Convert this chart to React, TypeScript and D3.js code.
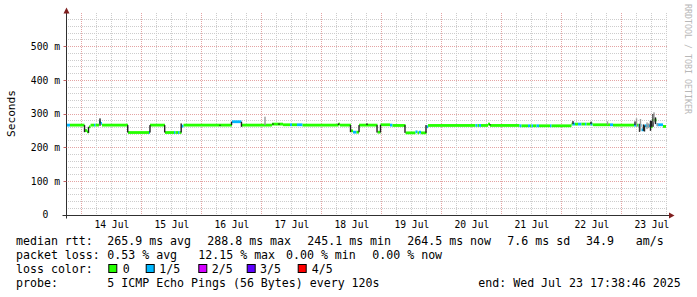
import React from 'react';
import * as d3 from 'd3';

const W = 697;
const H = 297;

// ---- data ----
const startTime = Date.UTC(2025, 6, 13, 17, 38, 46);
const endTime = Date.UTC(2025, 6, 23, 17, 38, 46);

// median rtt steps: start (day of July, fractional), value (ms), loss class (0..4)
const medianStart = [
  13.735, 13.752, 13.802, 14.044, 14.085, 14.119, 14.144, 14.202, 14.227, 14.285,
  14.319, 14.335, 14.769, 15.119, 15.135, 15.385, 15.535, 15.56, 15.602, 15.627,
  15.66, 15.694, 16.502, 16.66, 17.169, 17.352, 17.469, 17.502, 17.585, 17.677,
  18.277, 18.302, 18.485, 18.519, 18.577, 18.619, 18.927, 18.977, 19.135, 19.177,
  19.394, 19.56, 19.594, 19.619, 19.652, 19.744, 19.769, 20.56, 20.594, 20.619,
  20.652, 20.769, 20.802, 21.294, 21.327, 21.435, 21.469, 21.494, 21.519, 21.577,
  21.619, 21.802, 21.827, 22.16, 22.177, 22.219, 22.269, 22.327, 22.385, 22.41,
  22.477, 22.51, 22.519, 22.802, 22.852, 23.202, 23.244, 23.277, 23.327, 23.377,
  23.469, 23.51, 23.577, 23.685,
];
const medianMs = [
  267, 267, 267, 251, 247, 262, 267, 267, 267, 276,
  272, 267, 245, 245, 267, 245, 245, 245, 245, 245,
  264, 267, 277, 267, 270, 268, 268, 268, 268, 267,
  270, 267, 250, 246, 246, 267, 246, 268, 267, 266,
  244, 247, 244, 246, 244, 262, 266, 266, 266, 266,
  266, 270, 266, 265, 265, 265, 265, 265, 265, 265,
  265, 265, 265, 270, 270, 270, 270, 270, 270, 270,
  270, 270, 268, 268, 267, 267, 267, 266, 253, 265,
  262, 282, 268, 263,
];
const medianLoss = [
  0, 1, 0, 0, 0, 0, 0, 1, 0, 1,
  1, 0, 0, 1, 0, 0, 1, 0, 1, 0,
  1, 0, 1, 0, 0, 0, 1, 0, 1, 0,
  0, 0, 0, 1, 0, 0, 0, 0, 1, 0,
  0, 1, 0, 1, 0, 1, 0, 1, 0, 1,
  0, 0, 0, 1, 0, 1, 0, 1, 0, 1,
  0, 1, 0, 0, 1, 0, 1, 0, 1, 0,
  1, 0, 0, 1, 0, 1, 0, 1, 1, 1,
  0, 0, 1, 0,
];

// smoke (spread of pings) bars: day, low (ms), high (ms), shade (0 dark, 1 light)
const smokeDay = [
  14.044, 14.11, 14.302, 14.764, 15.135, 15.38, 15.655, 16.302, 16.494, 16.66,
  17.052, 17.185, 17.285, 18.277, 18.477, 18.619, 18.752, 18.919, 18.977, 19.385,
  19.735, 20.802, 22.185, 22.485, 22.76, 23.219, 23.244, 23.294, 23.31, 23.36,
  23.377, 23.419, 23.444, 23.477, 23.494, 23.519, 23.535, 23.56, 23.594,
];
const smokeLowMs = [
  246, 244, 265, 245, 245, 245, 245, 265, 267, 262,
  267, 268, 268, 267, 246, 246, 267, 245, 245, 244,
  244, 266, 270, 270, 268, 267, 262, 247, 250, 250,
  248, 255, 258, 250, 262, 262, 275, 270, 264,
];
const smokeHighMs = [
  267, 262, 287, 267, 267, 267, 272, 268, 277, 277,
  292, 272, 272, 272, 267, 267, 272, 267, 268, 267,
  267, 270, 279, 277, 278, 278, 287, 271, 285, 269,
  266, 275, 272, 280, 280, 300, 305, 290, 272,
];
const smokeShade = [
  0, 0, 0, 0, 0, 0, 0, 0, 0, 0,
  1, 0, 0, 0, 0, 0, 0, 0, 0, 0,
  0, 0, 0, 0, 1, 0, 1, 0, 1, 0,
  0, 1, 1, 0, 0, 0, 1, 0, 1,
];

const yTickValues = [0, 100, 200, 300, 400, 500];
const yTickLabels = ['0  ', '100 m', '200 m', '300 m', '400 m', '500 m'];
const dayLabels = ['14 Jul', '15 Jul', '16 Jul', '17 Jul', '18 Jul', '19 Jul', '20 Jul', '21 Jul', '22 Jul', '23 Jul'];
const lossLabels = ['0', '1/5', '2/5', '3/5', '4/5'];
const lossColors = ['#26ff00', '#00b8ff', '#d400ff', '#5e00ff', '#ff0000'];

const MONO = "'DejaVu Sans Mono', 'Liberation Mono', monospace";

const dayToDate = (d: number) => new Date(Date.UTC(2025, 6, 1) + (d - 1) * 86400000);

export default function App() {
  const x = d3.scaleUtc().domain([new Date(startTime), new Date(endTime)]).range([66, 666]);
  const y = d3.scaleLinear().domain([0, 0.6]).range([215, 13]);

  const gridEnd = x.invert(668.5);
  const hourTicks = d3.utcHour.every(6)!.range(new Date(startTime), gridEnd);
  const hGrid = d3.range(20, 600, 20).map((v) => v / 1000);

  const medianRects = medianStart.map((s, i) => {
    const e = i + 1 < medianStart.length ? dayToDate(medianStart[i + 1]) : new Date(endTime);
    const x0 = x(dayToDate(s));
    const x1 = x(e);
    const yc = y(medianMs[i] / 1000);
    return (
      <rect key={'m' + i} x={x0} y={yc - 1.4} width={Math.max(0.5, x1 - x0)} height={2.8} fill={lossColors[medianLoss[i]]} />
    );
  });

  const smokeRects = smokeDay.map((d, i) => {
    const xc = x(dayToDate(d));
    const yt = y(smokeHighMs[i] / 1000);
    const yb = y(smokeLowMs[i] / 1000);
    return (
      <rect key={'s' + i} x={xc - 0.7} y={yt} width={1.4} height={yb - yt} fill={smokeShade[i] ? '#9a9a9a' : '#222222'} />
    );
  });

  const firstDay = d3.utcDay.ceil(new Date(startTime));
  const legendY = [244.5, 258.5, 272.5, 286.6];

  const row1: [string, number][] = [
    ['median rtt:', 16], ['265.9 ms avg', 107.3], ['288.8 ms max', 207.3], ['245.1 ms min', 307.3],
    ['264.5 ms now', 407.3], ['7.6 ms sd', 507.3], ['34.9', 586], ['am/s', 635.7],
  ];
  const row2: [string, number][] = [
    ['packet loss:', 16], ['0.53 % avg', 107.3], ['12.15 % max', 198.3], ['0.00 % min', 286], ['0.00 % now', 372.3],
  ];
  const row4: [string, number][] = [
    ['probe:', 16], ['5 ICMP Echo Pings (56 Bytes) every 120s', 107.3], ['end: Wed Jul 23 17:38:46 2025', 478.3],
  ];
  const boxX = [108.3, 145.7, 198.3, 246.7, 297.7];
  const boxLabelX = [122.7, 159.3, 211.7, 260, 311.7];

  return (
    <svg width={W} height={H} viewBox={`0 0 ${W} ${H}`} style={{ position: 'absolute', left: 0, top: 0, display: 'block', background: '#fff' }}>
      <rect x={0} y={0} width={W} height={H} fill="#ffffff" />
      {hGrid.map((v, i) => {
        const major = Math.round(v * 1000) % 100 === 0;
        const yy = Math.floor(y(v)) + 0.5;
        return (
          <line key={'hg' + i} x1={66} x2={668} y1={yy} y2={yy} stroke={major ? '#e4a4a4' : '#cdcdcd'} strokeWidth={1} strokeDasharray="1,1" />
        );
      })}
      {hourTicks.map((t, i) => {
        const major = t.getUTCHours() === 0;
        const xx = Math.floor(x(t)) + 0.5;
        return (
          <line key={'vg' + i} x1={xx} x2={xx} y1={13} y2={215} stroke={major ? '#e4a4a4' : '#cdcdcd'} strokeWidth={1} strokeDasharray="1,1" />
        );
      })}

      <g>{medianRects}</g>
      <g>{smokeRects}</g>

      <line x1={62.5} x2={670} y1={215.5} y2={215.5} stroke="#303030" strokeWidth={1} />
      <line x1={66.5} x2={66.5} y1={218.5} y2={11} stroke="#303030" strokeWidth={1} />
      {yTickValues.map((v, i) => {
        const yy = Math.floor(y(v / 1000)) + 0.5;
        return <line key={'yt' + i} x1={63.5} x2={66.5} y1={yy} y2={yy} stroke={i === 0 ? '#303030' : '#c06060'} strokeWidth={1} />;
      })}
      <path d="M66.5,7.5 L63.5,13.5 L69.5,13.5 Z" fill="#7f1f1f" />
      <path d="M674.5,215.5 L669,212.5 L669,218.5 Z" fill="#7f1f1f" />

      {yTickValues.map((v, i) => (
        <text key={'yl' + i} x={60} y={y(v / 1000) + 3.4} textAnchor="end" fontFamily={MONO} fontSize={9.7} fill="#000" style={{ whiteSpace: 'pre' }}>
          {yTickLabels[i]}
        </text>
      ))}
      {dayLabels.map((lab, i) => (
        <text key={'xl' + i} x={x(d3.utcHour.offset(d3.utcDay.offset(firstDay, i), 12))} y={227.7} textAnchor="middle" fontFamily={MONO} fontSize={9.7} fill="#000">
          {lab}
        </text>
      ))}

      <text transform="translate(14.8,113.5) rotate(-90)" textAnchor="middle" fontFamily={MONO} fontSize={11.2} fill="#000">Seconds</text>
      <text transform="translate(685,4) rotate(90)" fontFamily={MONO} fontSize={9} fill="#b8b8b8" textLength={110} lengthAdjust="spacingAndGlyphs">RRDTOOL / TOBI OETIKER</text>

      <g fontFamily={MONO} fontSize={11.6} fill="#000" style={{ whiteSpace: 'pre' }}>
        {row1.map(([t, xx], i) => (
          <text key={'r1' + i} x={xx} y={legendY[0]}>{t}</text>
        ))}
        {row2.map(([t, xx], i) => (
          <text key={'r2' + i} x={xx} y={legendY[1]}>{t}</text>
        ))}
        <text x={16} y={legendY[2]}>loss color:</text>
        {lossLabels.map((lab, i) => (
          <g key={'lc' + i}>
            <rect x={boxX[i] + 0.5} y={264.5} width={8} height={8} fill={lossColors[i]} stroke="#000" strokeWidth={1} />
            <text x={boxLabelX[i]} y={legendY[2]}>{lab}</text>
          </g>
        ))}
        {row4.map(([t, xx], i) => (
          <text key={'r4' + i} x={xx} y={legendY[3]}>{t}</text>
        ))}
      </g>
    </svg>
  );
}
